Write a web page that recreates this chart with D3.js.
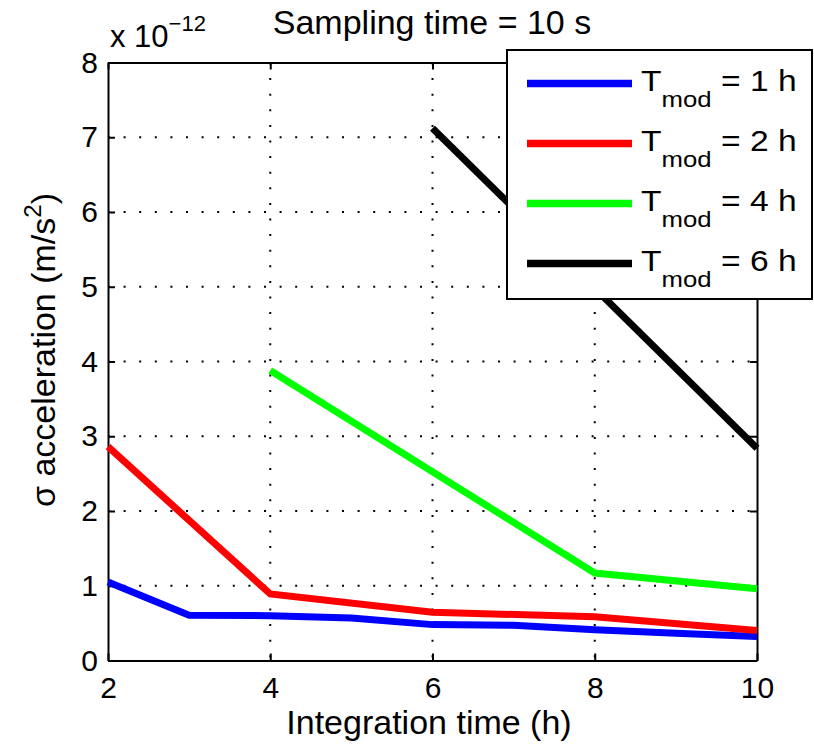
<!doctype html>
<html>
  <head>
    <meta charset="utf-8">
    <title>Sampling time = 10 s</title>
    <style>
      * { margin: 0; padding: 0; }
      body { background: #fff; width: 814px; height: 751px; overflow: hidden; }
      svg { font-family: "Liberation Sans", Arial, Helvetica, sans-serif; }
    </style>
    <script src="https://d3js.org/d3.v7.min.js"></script>
  </head>
  <body>
    <div id="chart"></div>
    <script>
    // values in units of 1e-12 m/s^2
    const xTicks = [2, 4, 6, 8, 10];
    const yTicks = [0, 1, 2, 3, 4, 5, 6, 7, 8];

    const t1h = [[2, 1.05], [3, 0.605], [4, 0.60], [5, 0.57], [6, 0.48], [7, 0.47], [8, 0.41], [9, 0.365], [10, 0.32]];
    const t2h = [[2, 2.86], [4, 0.89], [6, 0.645], [8, 0.585], [10, 0.40]];
    const t4h = [[4, 3.88], [8, 1.17], [10, 0.96]];
    const t6h = [[6, 7.12], [10, 2.84]];

    const seriesNames = ["1 h", "2 h", "4 h", "6 h"];
    const seriesColors = ["#0000ff", "#ff0000", "#00ff00", "#000000"];
    const seriesData = [t1h, t2h, t4h, t6h];

    const W = 814, H = 751;
    const pLeft = 108, pRight = 757, pTop = 62.5, pBottom = 660.5;

    const svg = d3.select("#chart").append("svg").attr("width", W).attr("height", H);

    const x = d3.scaleLinear().domain([2, 10]).range([pLeft, pRight]);
    const y = d3.scaleLinear().domain([0, 8]).range([pBottom, pTop]);

    // dotted grid
    const grid = svg.append("g");
    grid.selectAll("line.gx").data(xTicks.slice(1, -1)).enter().append("line")
        .attr("x1", d => x(d)).attr("x2", d => x(d))
        .attr("y1", pTop).attr("y2", pBottom)
        .attr("stroke", "#000").attr("stroke-width", 2).attr("stroke-dasharray", "2,13.6");
    grid.selectAll("line.gy").data(yTicks.slice(1, -1)).enter().append("line")
        .attr("y1", d => y(d)).attr("y2", d => y(d))
        .attr("x1", pLeft).attr("x2", pRight)
        .attr("stroke", "#000").attr("stroke-width", 2).attr("stroke-dasharray", "2,13.6");

    // axes (ticks inside, box on all sides)
    function styleAxis(g) {
      g.selectAll("path").attr("stroke", "#000").attr("stroke-width", 2);
      g.selectAll("line").attr("stroke", "#000").attr("stroke-width", 2);
      g.selectAll("text").attr("fill", "#000").style("font-size", "30px").style("font-family", "Liberation Sans, Arial, sans-serif");
    }
    svg.append("g").attr("transform", `translate(0,${pBottom})`)
        .call(d3.axisBottom(x).tickValues(xTicks).tickSizeInner(-7).tickSizeOuter(0).tickPadding(16))
        .call(styleAxis);
    svg.append("g").attr("transform", `translate(0,${pTop})`)
        .call(d3.axisTop(x).tickValues(xTicks).tickSizeInner(-7).tickSizeOuter(0).tickFormat(""))
        .call(styleAxis);
    svg.append("g").attr("transform", `translate(${pLeft},0)`)
        .call(d3.axisLeft(y).tickValues(yTicks).tickSizeInner(-7).tickSizeOuter(0).tickPadding(10))
        .call(styleAxis);
    svg.append("g").attr("transform", `translate(${pRight},0)`)
        .call(d3.axisRight(y).tickValues(yTicks).tickSizeInner(-7).tickSizeOuter(0).tickFormat(""))
        .call(styleAxis);

    // data lines
    const line = d3.line().x(d => x(d[0])).y(d => y(d[1]));
    seriesData.forEach(function (s, i) {
      svg.append("path").datum(s)
          .attr("d", line)
          .attr("fill", "none")
          .attr("stroke", seriesColors[i])
          .attr("stroke-width", 7);
    });

    // exponent label
    const expo = svg.append("text").attr("x", 110).attr("y", 47).style("font-size", "31px");
    expo.append("tspan").text("x 10");
    expo.append("tspan").attr("dy", -16).style("font-size", "22px").text("\u221212");

    // title
    svg.append("text").attr("x", 432).attr("y", 34)
        .attr("text-anchor", "middle").style("font-size", "34px")
        .text("Sampling time = 10 s");

    // x label
    svg.append("text").attr("x", 429).attr("y", 734)
        .attr("text-anchor", "middle").style("font-size", "34px")
        .text("Integration time (h)");

    // y label
    const yl = svg.append("text")
        .attr("transform", "translate(55,350) rotate(-90)")
        .attr("text-anchor", "middle").style("font-size", "34px");
    yl.append("tspan").text("\u03c3 acceleration (m/s");
    yl.append("tspan").attr("dy", -14).style("font-size", "24px").text("2");
    yl.append("tspan").attr("dy", 14).text(")");

    // legend
    const lg = svg.append("g");
    lg.append("rect").attr("x", 507).attr("y", 50).attr("width", 305).attr("height", 249)
        .attr("fill", "#fff").attr("stroke", "#000").attr("stroke-width", 2);
    seriesNames.forEach(function (name, i) {
      const ry = 83.5 + i * 60;
      lg.append("line").attr("x1", 527).attr("x2", 632).attr("y1", ry).attr("y2", ry)
          .attr("stroke", seriesColors[i]).attr("stroke-width", 7.5);
      const t = lg.append("text")
          .attr("transform", `translate(641,${ry + 7}) scale(1.12,1)`)
          .style("font-size", "30px");
      t.append("tspan").text("T");
      t.append("tspan").attr("dy", 16).style("font-size", "23px").text("mod");
      t.append("tspan").attr("dy", -16).text(" = " + name);
    });
    </script>
  </body>
</html>
